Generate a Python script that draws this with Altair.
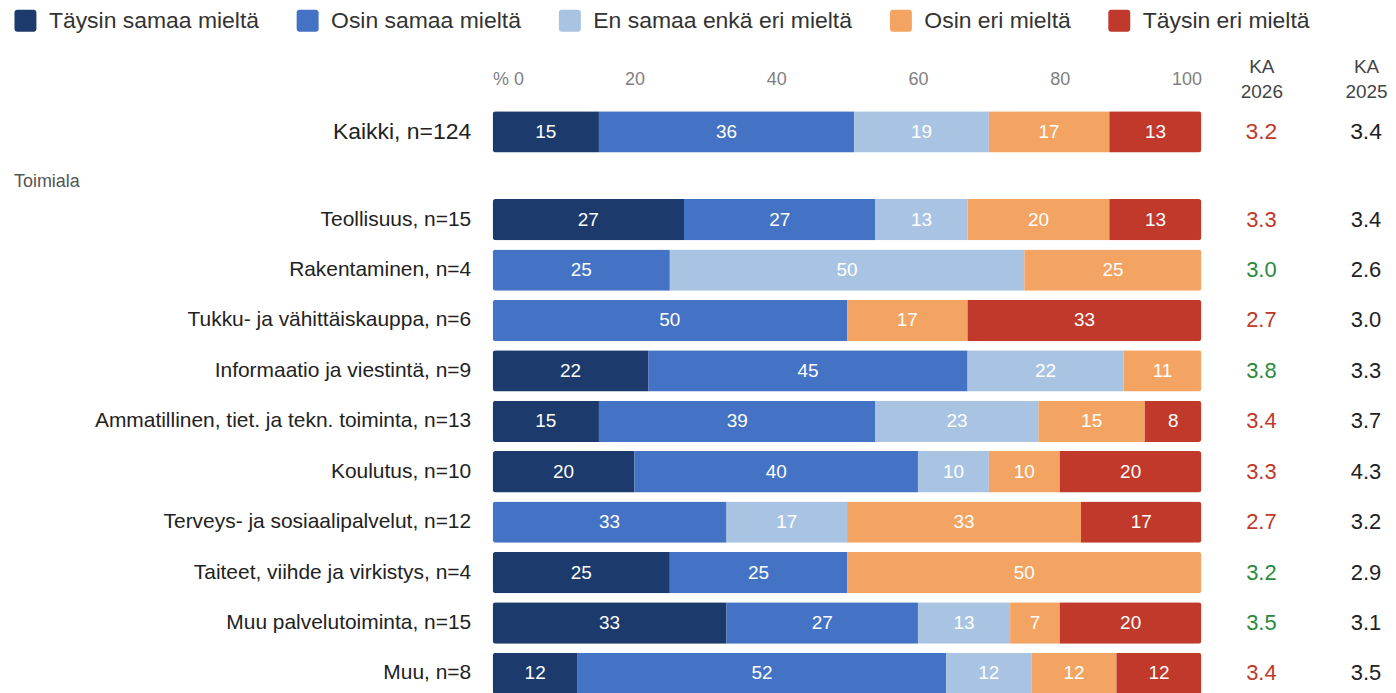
import altair as alt
import pandas as pd

# ---------------- data ----------------
categories = ["Täysin samaa mieltä", "Osin samaa mieltä", "En samaa enkä eri mieltä",
              "Osin eri mieltä", "Täysin eri mieltä"]
palette = ["#1c3a6b", "#4472c4", "#a9c4e2", "#f4a462", "#c0392b"]

total_rows = ["Kaikki, n=124"]
total_values = [[15, 36, 19, 17, 13]]
total_ka2026 = [3.2]
total_ka2025 = [3.4]

group_title = "Toimiala"
group_rows = [
    "Teollisuus, n=15",
    "Rakentaminen, n=4",
    "Tukku- ja vähittäiskauppa, n=6",
    "Informaatio ja viestintä, n=9",
    "Ammatillinen, tiet. ja tekn. toiminta, n=13",
    "Koulutus, n=10",
    "Terveys- ja sosiaalipalvelut, n=12",
    "Taiteet, viihde ja virkistys, n=4",
    "Muu palvelutoiminta, n=15",
    "Muu, n=8",
]
group_values = [
    [27, 27, 13, 20, 13],
    [0, 25, 50, 25, 0],
    [0, 50, 0, 17, 33],
    [22, 45, 22, 11, 0],
    [15, 39, 23, 15, 8],
    [20, 40, 10, 10, 20],
    [0, 33, 17, 33, 17],
    [25, 25, 0, 50, 0],
    [33, 27, 13, 7, 20],
    [12, 52, 12, 12, 12],
]
group_ka2026 = [3.3, 3.0, 2.7, 3.8, 3.4, 3.3, 2.7, 3.2, 3.5, 3.4]
group_ka2025 = [3.4, 2.6, 3.0, 3.3, 3.7, 4.3, 3.2, 2.9, 3.1, 3.5]

ka_columns = ["KA 2026", "KA 2025"]
x_ticks = [0, 20, 40, 60, 80, 100]

# ---------------- helpers ----------------
FONT = "Arial, Liberation Sans, sans-serif"
STEP = 50.56
BAR_W = 711
KA_W = 147
KA_PAD = 0.2


def bar_df(rows, values):
    recs = []
    for r, vals in zip(rows, values):
        for i, (c, v) in enumerate(zip(categories, vals)):
            if v > 0:
                recs.append({"row": r, "cat": c, "order": i, "value": v})
    return pd.DataFrame(recs)


def ka_df(rows, k26, k25):
    recs = []
    for r, a, b in zip(rows, k26, k25):
        recs.append({"row": r, "col": ka_columns[0], "val": a, "kind": "up" if a > b else "down"})
        recs.append({"row": r, "col": ka_columns[1], "val": b, "kind": "prev"})
    return pd.DataFrame(recs)


def yscale(rows):
    return alt.Scale(domain=rows, paddingInner=0.18, paddingOuter=0.09)


rounded = ("M-1,-0.75 A0.25,0.25 0 0 1 -0.75,-1 L0.75,-1 A0.25,0.25 0 0 1 1,-0.75 "
           "L1,0.75 A0.25,0.25 0 0 1 0.75,1 L-0.75,1 A0.25,0.25 0 0 1 -1,0.75 Z")

legend = alt.Legend(orient="none", legendX=-480, legendY=-98, direction="horizontal",
                    title=None, labelFontSize=23, labelColor="#333333", labelLimit=400,
                    symbolType=rounded, symbolSize=484, symbolStrokeWidth=0,
                    symbolOpacity=1, columnPadding=37, labelOffset=12)


def bars_chart(rows, values, top_axis, label_size, title=None):
    df = bar_df(rows, values)
    base = alt.Chart(df)
    if top_axis:
        xaxis = alt.Axis(orient="top", values=x_ticks, title=None,
                         labelExpr="datum.value == 0 ? '% 0' : datum.label",
                         labelFlush=True, labelFontSize=18, labelColor="#808080",
                         grid=False, ticks=False, domain=False, labelPadding=18)
    else:
        xaxis = None
    y = alt.Y("row:N", sort=rows, scale=yscale(rows),
              axis=alt.Axis(title=None, ticks=False, domain=False, labelFontSize=label_size,
                            labelColor="#222222", labelPadding=22, labelLimit=700))
    bars = base.mark_bar(cornerRadius=3).encode(
        x=alt.X("value:Q", stack="zero", scale=alt.Scale(domain=[0, 100], nice=False), axis=xaxis),
        y=y,
        color=alt.Color("cat:N", scale=alt.Scale(domain=categories, range=palette), legend=legend),
        order=alt.Order("order:Q"),
    )
    labels = base.transform_stack(
        stack="value", groupby=["row"], sort=[alt.SortField("order", "ascending")], as_=["v0", "v1"]
    ).transform_calculate(mid="(datum.v0 + datum.v1) / 2").mark_text(
        color="white", fontSize=19, align="center", baseline="middle"
    ).encode(
        x=alt.X("mid:Q"),
        y=alt.Y("row:N", sort=rows),
        text=alt.Text("value:Q"),
    )
    props = dict(width=BAR_W, height=STEP * len(rows))
    if title is not None:
        props["title"] = alt.Title(title, anchor="start", frame="group", dx=-480, offset=3,
                                   fontSize=18, fontWeight="normal", color="#555555")
    return alt.layer(bars, labels).properties(**props)


def ka_chart(rows, k26, k25, header, value_size):
    df = ka_df(rows, k26, k25)
    if header:
        xaxis = alt.Axis(orient="top", title=None, labelAngle=0,
                         labelExpr="split(datum.label, ' ')", labelFontSize=19,
                         labelColor="#444444", labelLineHeight=25, labelPadding=30.5,
                         ticks=False, domain=False, grid=False)
    else:
        xaxis = None
    return alt.Chart(df).mark_text(fontSize=value_size, align="center", baseline="middle").encode(
        x=alt.X("col:N", sort=ka_columns,
                scale=alt.Scale(domain=ka_columns, type="point", padding=KA_PAD), axis=xaxis),
        y=alt.Y("row:N", sort=rows, scale=yscale(rows), axis=None),
        text=alt.Text("val:Q", format=".1f"),
        fill=alt.Fill("kind:N", scale=alt.Scale(domain=["up", "down", "prev"],
                                                range=["#2b8a3e", "#c0392b", "#222222"]),
                      legend=None),
    ).properties(width=KA_W, height=STEP * len(rows))


k_bars = bars_chart(total_rows, total_values, True, 23)
k_ka = ka_chart(total_rows, total_ka2026, total_ka2025, True, 23)
t_bars = bars_chart(group_rows, group_values, False, 21, title=group_title)
t_ka = ka_chart(group_rows, group_ka2026, group_ka2025, False, 22)

chart = alt.concat(
    k_bars, k_ka, t_bars, t_ka, columns=2,
    spacing=alt.RowColnumber(row=16, column=38),
).properties(
    padding={"left": 6, "top": 0, "right": 0, "bottom": 0}
).configure(
    font=FONT
).configure_view(
    stroke=None
)

chart.save("out.html", embed_options={"renderer": "svg", "actions": False})
